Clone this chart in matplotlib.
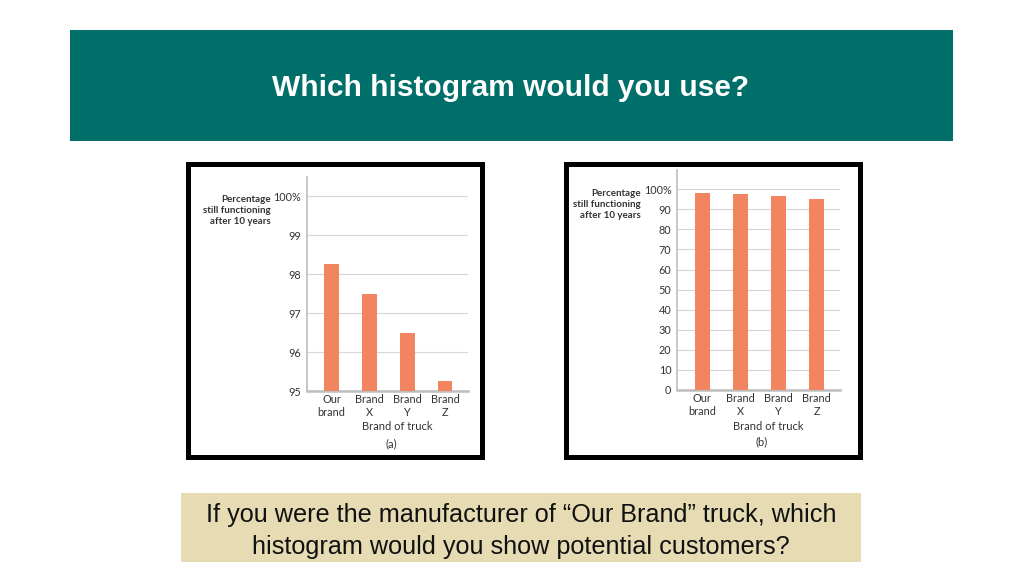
import matplotlib
matplotlib.use("Agg")
import matplotlib.pyplot as plt
from matplotlib.patches import Rectangle

# ---- data ----
brands = ["Our\nbrand", "Brand\nX", "Brand\nY", "Brand\nZ"]
pct_working = [98.25, 97.5, 96.5, 95.25]
ticks_a = [95, 96, 97, 98, 99, 100]
ticks_b = [0, 10, 20, 30, 40, 50, 60, 70, 80, 90, 100]

TEAL = "#006e69"
TAN = "#e6dbb2"
BAR = "#f2845f"
GRID = "#d6d6d6"
AXIS = "#bdbdbd"
TXT = "#333333"
W, H = 1024, 575

fig = plt.figure(figsize=(W / 100, H / 100), dpi=100)
fig.patch.set_facecolor("white")


def px_box(x0, y0, x1, y1):
    # pixel box (top-left origin) -> figure fraction rect
    return [x0 / W, 1 - y1 / H, (x1 - x0) / W, (y1 - y0) / H]


def add_rect(x0, y0, x1, y1, **kw):
    l, b, w, h = px_box(x0, y0, x1, y1)
    fig.patches.append(Rectangle((l, b), w, h, transform=fig.transFigure, **kw))


# title banner
add_rect(70, 30, 953, 141, facecolor=TEAL, edgecolor="none", zorder=0)
fig.text(511 / W, 1 - 88 / H, "Which histogram would you use?", color="white",
         fontsize=21.5, fontweight="bold", family="Liberation Sans", ha="center", va="center")

# panel frames
for x0 in (185, 563):
    add_rect(x0 + 2.5, 163.5, x0 + 296.5, 456.5, facecolor="white", edgecolor="black",
             linewidth=3.6, zorder=0)

# bottom question box
add_rect(181, 493, 861, 562, facecolor=TAN, edgecolor="none", zorder=0)
fig.text(521 / W, 1 - 531 / H,
         "If you were the manufacturer of \u201cOur Brand\u201d truck, which\nhistogram would you show potential customers?",
         color="#111111", fontsize=18.2, family="Liberation Sans", ha="center", va="center",
         linespacing=1.38)


def panel(box, ylim, ticks, label, ylab_xy, xlab_y, tag_y, tag_x):
    ax = fig.add_axes(px_box(*box), zorder=2)
    ax.set_facecolor("none")
    ax.bar(range(len(brands)), pct_working, width=0.39, color=BAR, zorder=3)
    ax.set_xlim(-0.66, 3.61)
    ax.set_ylim(*ylim)
    ax.set_yticks(ticks)
    ax.set_yticklabels([str(t) for t in ticks[:-1]] + ["100%"])
    ax.set_xticks(range(len(brands)))
    ax.set_xticklabels(brands, linespacing=1.22)
    ax.tick_params(length=0, labelsize=7.8, labelcolor=TXT, pad=4, labelfontfamily="Lato")
    ax.tick_params(axis="x", pad=2)
    ax.grid(axis="y", color=GRID, linewidth=0.8, zorder=0)
    for s in ["top", "right"]:
        ax.spines[s].set_visible(False)
    ax.spines["left"].set_color(AXIS)
    ax.spines["left"].set_linewidth(1.2)
    ax.spines["bottom"].set_color(AXIS)
    ax.spines["bottom"].set_linewidth(1.8)
    fig.text(ylab_xy[0] / W, 1 - ylab_xy[1] / H, "Percentage\nstill functioning\nafter 10 years",
             ha="right", va="top", fontsize=7, family="Lato", fontweight="bold",
             color=TXT, linespacing=1.3, zorder=3)
    cx = (box[0] + box[2]) / 2
    fig.text((cx + 10) / W, 1 - xlab_y / H, "Brand of truck", ha="center", va="center",
             fontsize=8, family="Lato", color=TXT, zorder=3)
    fig.text(tag_x / W, 1 - tag_y / H, label, ha="center", va="center",
             fontsize=8, family="Lato", color=TXT, zorder=3)
    return ax


panel((306.7, 176.7, 468, 391), (95, 100.5), ticks_a, "(a)", (271, 195), 427, 444, 391)
panel((677, 170, 840, 390), (0, 109.6), ticks_b, "(b)", (641, 189), 426, 442, 762)

fig.savefig("out.png", dpi=100, facecolor="white")
